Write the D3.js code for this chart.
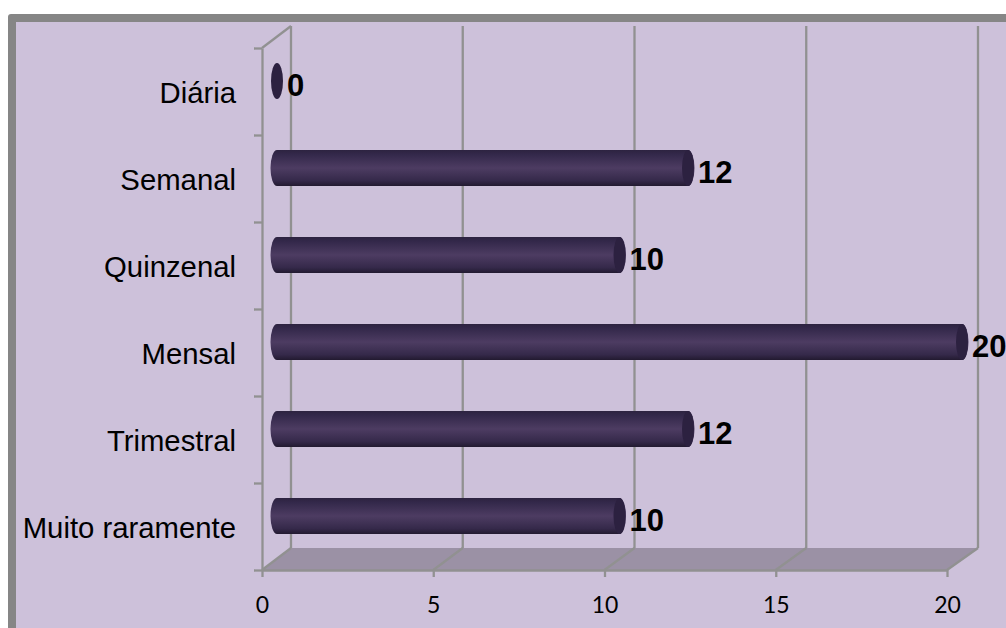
<!DOCTYPE html>
<html><head><meta charset="utf-8">
<script src="https://cdn.jsdelivr.net/npm/d3@7"></script>
<style>html,body{margin:0;padding:0;background:#fff;overflow:hidden}svg{display:block}</style>
</head><body><svg id="c" width="1006" height="628"></svg>
<script>
const categories=["Diária","Semanal","Quinzenal","Mensal","Trimestral","Muito raramente"];
const values=[0,12,10,20,12,10];
const xTicks=[0,5,10,15,20];
const colorBg="#cdc1da",colorBorder="#868686",colorGrid="#919191",colorFloor="#9b91a5";
const W=1006,H=628;
const svg=d3.select("#c");
const x=d3.scaleLinear().domain([0,20]).range([262,947]);
const y=d3.scaleBand().domain(categories).range([48,570]);
const dx=29,dy=-22;           // depth of the 3D box
const midX=15,midY=-10.5;     // bars sit half way through the depth
const barH=36,capRx=6.5,lw=2.3;

const defs=svg.append("defs");
const g=defs.append("linearGradient").attr("id","cyl").attr("x1",0).attr("x2",0).attr("y1",0).attr("y2",1);
[[0,"#2d2340"],[0.12,"#33284a"],[0.5,"#4d3c62"],[0.85,"#35294a"],[1,"#221a30"]]
 .forEach(s=>g.append("stop").attr("offset",s[0]).attr("stop-color",s[1]));

// plot background and frame
svg.append("rect").attr("x",8).attr("y",14).attr("width",W).attr("height",H).attr("rx",3).attr("fill",colorBorder);
svg.append("rect").attr("x",16).attr("y",22).attr("width",W).attr("height",H).attr("fill",colorBg);

const [y0,y1]=[y.range()[0],y.range()[1]];
// floor
svg.append("polygon").attr("fill",colorFloor)
 .attr("points",[[x(0),y1],[x(0)+dx,y1+dy],[x(20)+dx+2,y1+dy],[x(20),y1]].join(" "));
// back wall grid
const grid=svg.append("g").attr("stroke",colorGrid).attr("stroke-width",lw).attr("fill","none");
xTicks.forEach(t=>{
  grid.append("line").attr("x1",x(t)+dx+(t/20)*2).attr("x2",x(t)+dx+(t/20)*2).attr("y1",y0+dy).attr("y2",y1+dy);
  grid.append("line").attr("x1",x(t)).attr("y1",y1).attr("x2",x(t)+dx+(t/20)*2).attr("y2",y1+dy);
});
grid.append("line").attr("x1",x(0)).attr("y1",y0).attr("x2",x(0)+dx).attr("y2",y0+dy);

// axes
const axX=svg.append("g").attr("transform",`translate(0,${y1})`)
 .call(d3.axisBottom(x).tickValues(xTicks).tickSize(7).tickPadding(20).tickSizeOuter(0));
axX.select(".domain").attr("stroke",colorGrid).attr("stroke-width",lw);
axX.selectAll("line").attr("stroke",colorGrid).attr("stroke-width",lw);
axX.selectAll("text").attr("font-family","Lato").attr("font-size",23).attr("fill","#000");

const boundaries=d3.range(categories.length+1).map(i=>y0+i*y.step());
const yEdge=d3.scaleLinear().domain([y0,y1]).range([y0,y1]);
const axY=svg.append("g").attr("transform",`translate(${x(0)},0)`)
 .call(d3.axisLeft(yEdge).tickValues(boundaries).tickSize(8).tickFormat("").tickSizeOuter(0));
axY.select(".domain").attr("stroke",colorGrid).attr("stroke-width",lw);
axY.selectAll("line").attr("stroke",colorGrid).attr("stroke-width",lw);

// category labels
svg.append("g").selectAll("text").data(categories).join("text")
 .attr("x",236).attr("y",d=>y(d)+y.bandwidth()/2+11)
 .attr("text-anchor","end")
 .attr("font-family","Liberation Sans").attr("font-size",29.3).attr("fill","#000").text(d=>d);

// cylinders
const bars=svg.append("g").selectAll("g").data(values).join("g")
 .attr("transform",(d,i)=>`translate(0,${y(categories[i])+y.bandwidth()/2+midY})`);
bars.filter(d=>d>0).append("path").attr("fill","url(#cyl)")
 .attr("d",d=>{
   const a=x(0)+midX,b=x(d)+midX;
   return `M${a},${-barH/2}L${b},${-barH/2}A${capRx},${barH/2} 0 0 1 ${b},${barH/2}L${a},${barH/2}A${capRx},${barH/2} 0 0 1 ${a},${-barH/2}Z`;
 });
bars.append("ellipse").attr("cx",d=>x(d)+midX).attr("cy",0).attr("rx",capRx-0.5).attr("ry",barH/2)
 .attr("fill","#2c2140");

// value labels
bars.append("text").attr("x",d=>x(d)+midX+10).attr("y",4).attr("dy","0.355em")
 .attr("font-family","Liberation Sans").attr("font-weight","bold").attr("font-size",31).attr("fill","#000")
 .text(d=>d);
</script></body></html>
